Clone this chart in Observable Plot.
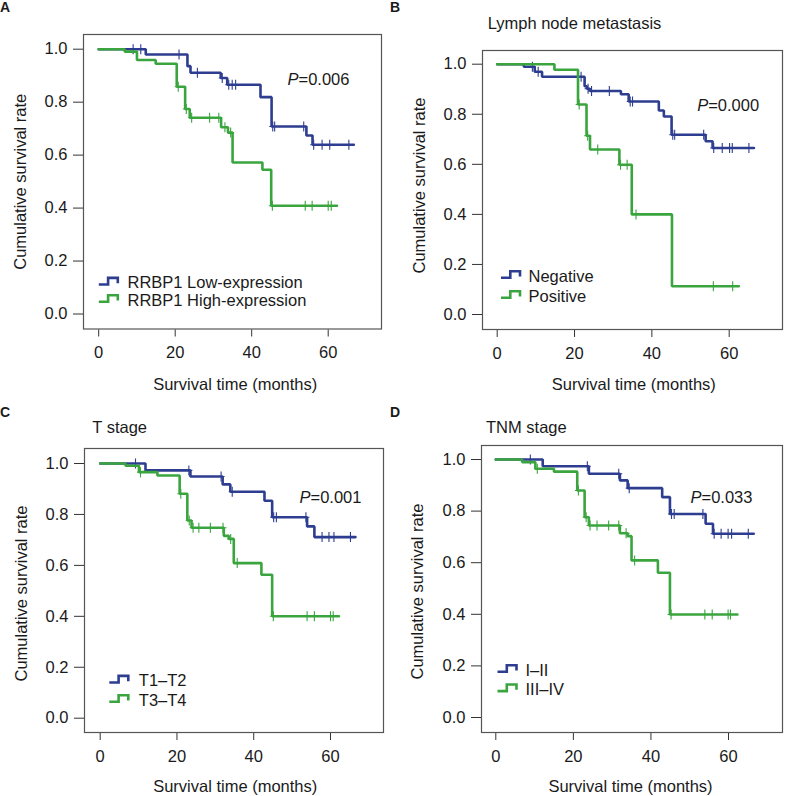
<!DOCTYPE html>
<html><head><meta charset="utf-8">
<script src="https://cdn.jsdelivr.net/npm/d3@7"></script>
<script src="https://cdn.jsdelivr.net/npm/@observablehq/plot@0.6"></script>
<style>
html,body{margin:0;padding:0;background:#fff;}
body{width:785px;height:796px;position:relative;overflow:hidden;font-family:"Liberation Sans",Arial,sans-serif;color:#1a1a1a;}
.panel{position:absolute;}
.panel svg{overflow:visible;}
.lab{position:absolute;white-space:nowrap;line-height:1;}
</style></head><body>
<script>
// ---------- chart text ----------
const panelLetters = ["A", "B", "C", "D"];
const panelTitles = ["", "Lymph node metastasis", "T stage", "TNM stage"];
const pValues = ["=0.006", "=0.000", "=0.001", "=0.033"];
const groupNames = [
  ["RRBP1 Low-expression", "RRBP1 High-expression"],
  ["Negative", "Positive"],
  ["T1\u2013T2", "T3\u2013T4"],
  ["I\u2013II", "III\u2013IV"]
];
const xTitle = "Survival time (months)";
const yTitle = "Cumulative survival rate";
const xTicks = [0, 20, 40, 60];
const yTicks = [0, 0.2, 0.4, 0.6, 0.8, 1.0];

// ---------- A: RRBP1 expression ----------
const aLowTime = [0, 12.3, 23.2, 24.0, 31.9, 33.6, 42.3, 45.2, 54.3, 55.9, 66.7];
const aLowSurv = [1, 0.980, 0.936, 0.911, 0.891, 0.866, 0.819, 0.708, 0.674, 0.639, 0.639];
const aLowCens = [9.0, 11.0, 21.0, 25.8, 32.3, 34.0, 34.9, 35.8, 45.5, 46.0, 53.6, 56.2, 58.4, 60.4, 65.4];
const aHighTime = [0, 6.8, 10.0, 14.9, 20.4, 22.6, 23.8, 32.0, 33.8, 35.0, 42.8, 45.1, 62.3];
const aHighSurv = [1, 0.991, 0.959, 0.945, 0.858, 0.774, 0.741, 0.705, 0.685, 0.572, 0.545, 0.409, 0.409];
const aHighCens = [20.8, 22.9, 24.3, 29.0, 31.4, 33.0, 34.5, 45.4, 54.0, 55.8, 60.0, 60.8];

// ---------- B: Lymph node metastasis ----------
const bNegTime = [0, 6.9, 9.7, 11.6, 22.6, 23.2, 24.0, 32.0, 34.0, 41.8, 43.1, 45.1, 53.9, 55.7, 66.4];
const bNegSurv = [1, 0.990, 0.970, 0.950, 0.912, 0.902, 0.893, 0.880, 0.851, 0.815, 0.791, 0.718, 0.692, 0.665, 0.665];
const bNegCens = [9.1, 10.6, 21.7, 23.5, 24.4, 29.0, 34.4, 35.0, 45.4, 45.9, 53.4, 56.0, 58.2, 60.1, 60.8, 65.1];
const bPosTime = [0, 14.8, 20.9, 23.1, 24.0, 31.6, 34.8, 45.2, 62.5];
const bPosSurv = [1, 0.978, 0.839, 0.714, 0.659, 0.598, 0.400, 0.113, 0.113];
const bPosCens = [21.2, 23.4, 26.0, 31.9, 33.6, 35.9, 55.9, 60.9];

// ---------- C: T stage ----------
const cT12Time = [0, 11.8, 23.5, 31.9, 33.9, 42.8, 44.8, 53.9, 55.8, 66.5];
const cT12Surv = [1, 0.973, 0.949, 0.918, 0.889, 0.854, 0.789, 0.753, 0.711, 0.711];
const cT12Cens = [9.2, 23.1, 31.5, 34.4, 45.2, 45.9, 53.6, 57.8, 59.6, 60.9, 65.2];
const cT34Time = [0, 6.6, 10.1, 14.9, 20.7, 22.7, 23.8, 32.2, 33.5, 34.8, 42.0, 44.8, 62.2];
const cT34Surv = [1, 0.991, 0.966, 0.953, 0.881, 0.776, 0.748, 0.716, 0.704, 0.609, 0.563, 0.400, 0.400];
const cT34Cens = [10.5, 21.0, 23.2, 24.2, 25.7, 28.7, 32.0, 34.0, 35.7, 45.1, 53.9, 55.8, 60.0, 60.7];

// ---------- D: TNM stage ----------
const dI2Time = [0, 12.1, 24.0, 32.0, 34.0, 42.9, 44.9, 54.1, 56.0, 66.5];
const dI2Surv = [1, 0.974, 0.945, 0.919, 0.889, 0.854, 0.789, 0.751, 0.712, 0.712];
const dI2Cens = [8.9, 23.6, 31.7, 34.4, 45.3, 46.0, 53.4, 56.3, 58.1, 59.9, 60.8, 65.1];
const dIII4Time = [0, 6.8, 10.2, 15.0, 21.0, 22.9, 24.0, 32.0, 34.0, 35.0, 41.8, 44.9, 62.3];
const dIII4Surv = [1, 0.990, 0.964, 0.953, 0.880, 0.776, 0.744, 0.714, 0.703, 0.609, 0.561, 0.399, 0.399];
const dIII4Cens = [10.7, 21.3, 23.3, 24.3, 26.1, 29.1, 31.7, 33.6, 35.8, 45.2, 53.9, 55.8, 59.9, 60.5];

// ---------- styling ----------
const BLUE = "#2d3d90";
const GREEN = "#3aa53e";
const FONT = "'Liberation Sans', Arial, sans-serif";
const FS = 16.5;

// layout per panel (page pixels)
const layouts = [
  {box:[0,0,390,400], frame:[83,34,381,328.5], x0:98.2, x60:327.7, y1:48.7, y0:313.5,
   yT:{dx:-63, dy:0}, xT:{dx:2.7, dy:55.5}, p:{dx:-83, dy:45.5},
   leg:{sym:25.3, txt:44, rows:[-45.8, -28.5]},
   letter:{x:0, base:12}, title:null},
  {box:[390,0,395,400], frame:[482,50,782,329], x0:496.7, x60:728.7, y1:63.7, y0:314,
   yT:{dx:-62.7, dy:-4.5}, xT:{dx:1.3, dy:55}, p:{dx:-74.3, dy:55},
   leg:{sym:28.5, txt:46, rows:[-53, -33]},
   letter:{x:390, base:11.7}, title:{x:487.7, base:29.3}},
  {box:[0,400,390,396], frame:[84,448,383,732], x0:99.7, x60:330, y1:463, y0:717.7,
   yT:{dx:-62.3, dy:3}, xT:{dx:1.2, dy:54.7}, p:{dx:-73, dy:49},
   leg:{sym:34.8, txt:54.3, rows:[-51.3, -32]},
   letter:{x:0, base:416.7}, title:{x:92.3, base:433}},
  {box:[390,400,395,396], frame:[481,445,782,732], x0:495.3, x60:728, y1:459, y0:717,
   yT:{dx:-63.7, dy:2.5}, xT:{dx:-1.5, dy:54.7}, p:{dx:-81, dy:52.5},
   leg:{sym:26, txt:44, rows:[-62, -42.7]},
   letter:{x:390, base:416.7}, title:{x:486, base:432.7}}
];

const panelData = [
  [[aLowTime, aLowSurv, aLowCens], [aHighTime, aHighSurv, aHighCens]],
  [[bNegTime, bNegSurv, bNegCens], [bPosTime, bPosSurv, bPosCens]],
  [[cT12Time, cT12Surv, cT12Cens], [cT34Time, cT34Surv, cT34Cens]],
  [[dI2Time, dI2Surv, dI2Cens], [dIII4Time, dIII4Surv, dIII4Cens]]
];
const groupColors = [BLUE, GREEN];

// step-function level at time t
function levelAt(times, surv, t) {
  let v = surv[0];
  for (let i = 0; i < times.length; i++) if (times[i] <= t) v = surv[i];
  return v;
}

// custom symbols
const plusSymbol = {draw(ctx) { ctx.moveTo(0, -5); ctx.lineTo(0, 5); ctx.moveTo(-3.5, 0); ctx.lineTo(3.5, 0); }};
const stepSymbol = {draw(ctx) { ctx.moveTo(-10, 3.3); ctx.lineTo(-0.7, 3.3); ctx.lineTo(-0.7, -3.3); ctx.lineTo(9, -3.3); ctx.lineTo(9, 2); }};

function addLabel(text, x, base, fs, extra) {
  const d = document.createElement("div");
  d.className = "lab";
  d.textContent = text;
  d.style.left = x + "px";
  d.style.top = (base - 0.8465 * fs) + "px";
  d.style.fontSize = fs + "px";
  d.style.lineHeight = fs + "px";
  if (extra) Object.assign(d.style, extra);
  document.body.appendChild(d);
}

layouts.forEach((L, i) => {
  const [bx, by, bw, bh] = L.box;
  const [fl, ft, fr, fb] = L.frame;
  const ppm = (L.x60 - L.x0) / 60, ppu = L.y0 - L.y1;
  const xdom = [-(L.x0 - fl) / ppm, (fr - L.x0) / ppm];
  const ydom = [-(fb - L.y0) / ppu, 1 + (L.y1 - ft) / ppu];

  const marks = [
    Plot.frame({stroke: "#555", strokeWidth: 1.2}),
    Plot.axisX({ticks: xTicks, tickSize: 7, tickPadding: 9.4, dy: 1, label: null, stroke: "#333", fill: "#1a1a1a"}),
    Plot.axisY({ticks: yTicks, tickFormat: d3.format(".1f"), tickSize: 10, tickPadding: 6, label: null, stroke: "#333", fill: "#1a1a1a"})
  ];

  panelData[i].forEach(([times, surv, cens], g) => {
    const rows = times.map((t, k) => ({t, s: surv[k]}));
    const cRows = cens.map(t => ({t, s: levelAt(times, surv, t)}));
    marks.push(Plot.line(rows, {x: "t", y: "s", curve: "step-after", stroke: groupColors[g], strokeWidth: 2.6, strokeLinejoin: "miter"}));
    marks.push(Plot.dot(cRows, {x: "t", y: "s", symbol: plusSymbol, stroke: groupColors[g], fill: "none", strokeWidth: 1.1}));
  });

  // legend
  groupNames[i].forEach((name, g) => {
    marks.push(Plot.dot([name], {frameAnchor: "bottom-left", dx: L.leg.sym, dy: L.leg.rows[g] - 2, symbol: stepSymbol, stroke: groupColors[g], fill: "none", strokeWidth: 2.6}));
    marks.push(Plot.text([name], {frameAnchor: "bottom-left", dx: L.leg.txt, dy: L.leg.rows[g], textAnchor: "start", lineAnchor: "middle", fontSize: FS, fill: "#1a1a1a"}));
  });

  // P value
  marks.push(Plot.text(["P"], {frameAnchor: "top-right", dx: L.p.dx, dy: L.p.dy, textAnchor: "end", lineAnchor: "middle", fontStyle: "italic", fontSize: FS, fill: "#1a1a1a"}));
  marks.push(Plot.text([pValues[i]], {frameAnchor: "top-right", dx: L.p.dx, dy: L.p.dy, textAnchor: "start", lineAnchor: "middle", fontSize: FS, fill: "#1a1a1a"}));

  // axis titles
  marks.push(Plot.text([yTitle], {frameAnchor: "left", dx: L.yT.dx, dy: L.yT.dy, rotate: -90, textAnchor: "middle", lineAnchor: "middle", fontSize: FS, fill: "#1a1a1a"}));
  marks.push(Plot.text([xTitle], {frameAnchor: "bottom", dx: L.xT.dx, dy: L.xT.dy, textAnchor: "middle", lineAnchor: "middle", fontSize: FS, fill: "#1a1a1a"}));

  const chart = Plot.plot({
    width: bw, height: bh,
    marginLeft: fl - bx, marginRight: bx + bw - fr,
    marginTop: ft - by, marginBottom: by + bh - fb,
    x: {domain: xdom, label: null},
    y: {domain: ydom, label: null},
    style: {fontFamily: FONT, fontSize: FS + "px", color: "#1a1a1a", background: "transparent", overflow: "visible"},
    marks
  });
  const wrap = document.createElement("div");
  wrap.className = "panel";
  wrap.style.left = bx + "px";
  wrap.style.top = by + "px";
  wrap.style.width = bw + "px";
  wrap.style.height = bh + "px";
  wrap.appendChild(chart);
  document.body.appendChild(wrap);

  addLabel(panelLetters[i], L.letter.x, L.letter.base, 14, {fontWeight: "bold"});
  if (L.title) addLabel(panelTitles[i], L.title.x, L.title.base, FS);
});
</script>
</body></html>
